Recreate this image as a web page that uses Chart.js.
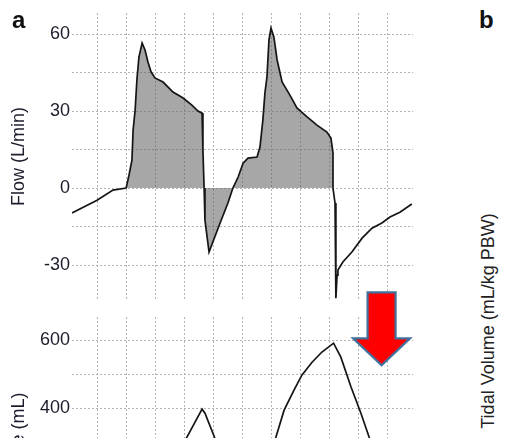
<!DOCTYPE html>
<html>
<head>
<meta charset="utf-8">
<script src="https://cdn.jsdelivr.net/npm/chart.js@4.4.1/dist/chart.umd.min.js"></script>
<style>
  html, body { margin: 0; padding: 0; background: #fff; width: 508px; height: 438px; overflow: hidden; }
  #flowBox { position: absolute; left: 0; top: 0; }
  #volBox { position: absolute; left: 0; top: 285px; }
  .panel { position: absolute; font: bold 24px "Liberation Sans", Arial, sans-serif; line-height: 24px; color: #111; }
  #tvTitle {
    position: absolute; left: 488px; top: 321px;
    font: 18px "Liberation Sans", Arial, sans-serif; line-height: 20px; color: #222;
    white-space: nowrap; transform: translate(-50%, -50%) rotate(-90deg);
  }
</style>
</head>
<body>
<canvas id="flowBox" width="430" height="320"></canvas>
<canvas id="volBox" width="430" height="300"></canvas>
<div class="panel" style="left:12px; top:8px;">a</div>
<div class="panel" style="left:479px; top:8px;">b</div>
<div id="tvTitle">Tidal Volume (mL/kg PBW)</div>
<script>
// Time axis (arbitrary units, one grid division per unit)
const xGrid = [1, 2, 3, 4, 5, 6, 7, 8, 9, 10, 11];
const X_MIN = 0.14, X_MAX = 11.86;

// Flow waveform (L/min)
const flowTime = [0.14, 1.0, 1.55, 2.0, 2.10, 2.20, 2.24, 2.31, 2.37, 2.44, 2.55, 2.65, 2.75, 2.86, 2.99,
  3.27, 3.61, 3.96, 4.26, 4.47, 4.61, 4.64, 4.68, 4.71, 4.85, 5.23, 5.50, 5.67, 5.85, 6.02, 6.19, 6.50,
  6.60, 6.70, 6.77, 6.84, 6.91, 6.98, 7.08, 7.19, 7.36, 7.63, 7.87, 8.22, 8.56, 8.90, 9.04, 9.11, 9.11,
  9.18, 9.21, 9.21, 9.25, 9.28, 9.45, 9.76, 10.11, 10.45, 10.79, 11.07, 11.41, 11.82];
const flowValue = [-9.7, -4.7, -0.8, 0, 5.1, 10.9, 22.6, 30.4, 42.1, 51.0, 56.5, 53.8, 49.1, 45.2, 42.9,
  41.3, 37.4, 35.1, 32.3, 30.0, 29.2, 14.8, 0, -12.5, -24.9, -13.6, -5.8, 0, 4.3, 9.7, 11.7, 12.1,
  16.0, 26.5, 37.0, 43.2, 57.7, 62.3, 58.8, 49.9, 41.3, 36.2, 31.2, 27.7, 24.5, 21.8, 19.5, 13.6, 0,
  -5.8, -33.1, -42.9, -33.9, -31.9, -28.8, -24.9, -19.5, -15.6, -13.6, -11.3, -9.4, -6.2];
// Shaded part of the flow trace (the two stacked breaths)
const BREATH_START = 2.0, BREATH_END = 9.11;

const flowTicks = [-30, -15, 0, 15, 30, 45, 60];
const flowTickLabels = ['-30', '', '0', '', '30', '', '60'];

// Volume waveform (mL); null separates the two humps
const volTime = [3.78, 4.09, 4.61, 4.71, 5.05, 5.30, 6.2, 7.01, 7.15, 7.43, 7.77, 8.04, 8.39, 8.73, 9.13,
  9.38, 9.73, 10.07, 10.35, 10.48];
const volValue = [265, 315, 397, 385, 312, 265, null, 274, 315, 394, 453, 497, 535, 565, 591,
  550, 462, 385, 315, 276];

const volTicks = [0, 100, 200, 300, 400, 500, 600];
const volTickLabels = ['0', '', '200', '', '400', '', '600'];

const FONT = { family: '"Liberation Sans", Arial, sans-serif', size: 18 };
const TEXT = '#1c1c2c';
const GRID = '#b4b4b4';

const zip = (xs, ys) => xs.map((x, i) => ({ x, y: ys[i] }));
const flowPts = zip(flowTime, flowValue);
const breathPts = flowPts.filter(p => p.x >= BREATH_START && p.x <= BREATH_END);

function xScale() {
  return {
    type: 'linear', min: X_MIN, max: X_MAX,
    afterBuildTicks: s => { s.ticks = xGrid.map(v => ({ value: v })); },
    afterFit: s => { s.height = 0; },
    ticks: { display: false },
    grid: { color: GRID, lineWidth: 1, drawTicks: false },
    border: { display: false, dash: [2, 2] }
  };
}

function yScale(min, max, ticks, labels, title, titlePad) {
  return {
    type: 'linear', min, max,
    afterBuildTicks: s => { s.ticks = ticks.map(v => ({ value: v })); },
    afterFit: s => { s.width = 72; },
    ticks: {
      padding: 2, color: TEXT, font: FONT,
      callback: v => labels[ticks.indexOf(v)]
    },
    grid: { color: GRID, lineWidth: 1, drawTicks: false },
    border: { display: false, dash: [2, 2] },
    title: { display: true, text: title, color: TEXT, font: FONT, padding: { top: titlePad, bottom: 0 } }
  };
}

const common = {
  responsive: false, animation: false, devicePixelRatio: 1,
  plugins: { legend: { display: false }, tooltip: { enabled: false } },
  elements: { point: { radius: 0 }, line: { tension: 0 } }
};

new Chart(document.getElementById('flowBox'), {
  type: 'line',
  data: {
    datasets: [
      { data: flowPts, borderColor: '#151515', borderWidth: 1.7, fill: false, order: 1 },
      { data: breathPts, borderWidth: 0, borderColor: 'rgba(0,0,0,0)',
        backgroundColor: 'rgba(95,95,95,0.55)', fill: 'origin', order: 2 }
    ]
  },
  options: Object.assign({}, common, {
    layout: { padding: { left: 0, right: 17, top: 13, bottom: 20 } },
    scales: { x: xScale(), y: yScale(-43.6, 68.2, flowTicks, flowTickLabels, 'Flow (L/min)', 8) }
  })
});

// Red down-arrow, anchored at its tip in volume-chart coordinates
const ARROW_TIP = { x: 10.78, y: 526 };
const downArrow = {
  id: 'downArrow',
  afterDraw(chart) {
    const { ctx, scales: { x, y } } = chart;
    const tx = x.getPixelForValue(ARROW_TIP.x), ty = y.getPixelForValue(ARROW_TIP.y);
    ctx.save();
    ctx.beginPath();
    ctx.moveTo(tx - 14, ty - 73);
    ctx.lineTo(tx + 14, ty - 73);
    ctx.lineTo(tx + 14, ty - 27);
    ctx.lineTo(tx + 28.5, ty - 27);
    ctx.lineTo(tx, ty);
    ctx.lineTo(tx - 28.5, ty - 27);
    ctx.lineTo(tx - 14, ty - 27);
    ctx.closePath();
    ctx.fillStyle = '#ff0000';
    ctx.fill();
    ctx.lineWidth = 2.2;
    ctx.lineJoin = 'miter';
    ctx.strokeStyle = '#41719c';
    ctx.stroke();
    ctx.restore();
  }
};

new Chart(document.getElementById('volBox'), {
  type: 'line',
  data: {
    datasets: [
      { data: zip(volTime, volValue), borderColor: '#151515', borderWidth: 1.7, fill: false, spanGaps: false }
    ]
  },
  options: Object.assign({}, common, {
    layout: { padding: { left: 0, right: 17, top: 32, bottom: 15 } },
    scales: { x: xScale(), y: yScale(-76, 668, volTicks, volTickLabels, 'Volume (mL)', 8) }
  }),
  plugins: [downArrow]
});
</script>
</body>
</html>
